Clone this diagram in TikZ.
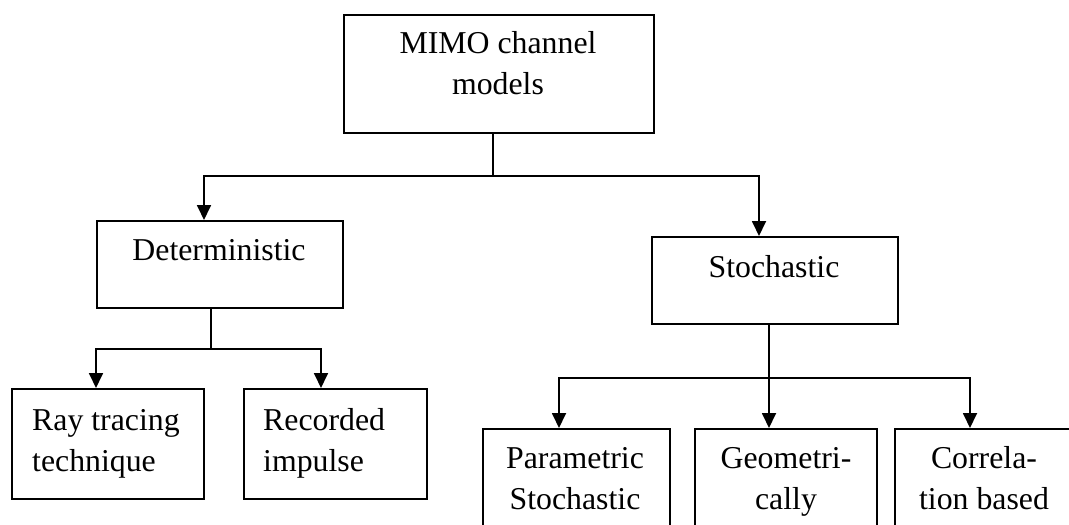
\documentclass[tikz,border=0pt]{standalone}
\usepackage{fontspec}
\setmainfont{Liberation Serif}
\usetikzlibrary{arrows.meta,calc}
\begin{document}
\begin{tikzpicture}[x=1pt,y=-1pt,
  box/.style={draw,line width=1.8pt,anchor=north west,inner sep=0pt},
  txt/.style={inner sep=0pt,font=\fontsize{31.8}{41}\selectfont},
  arr/.style={line width=1.8pt,-{Triangle[length=15pt,width=14pt]}},
  stem/.style={line width=1.3pt}]
\useasboundingbox (0,0) rectangle (1069,525);
\fill[white] (0,0) rectangle (1069,525);
\clip (0,0) rectangle (1069,525);
% boxes
\node[box,minimum width=310pt,minimum height=118pt] (top) at (343,14) {};
\node[box,minimum width=246pt,minimum height=87pt] (det) at (96,220) {};
\node[box,minimum width=192pt,minimum height=110pt] (ray) at (11,388) {};
\node[box,minimum width=183pt,minimum height=110pt] (rec) at (243,388) {};
\node[box,minimum width=246pt,minimum height=87pt] (sto) at (651,236) {};
\node[box,minimum width=187pt,minimum height=130pt] (par) at (482,428) {};
\node[box,minimum width=182pt,minimum height=130pt] (geo) at (694,428) {};
\node[box,minimum width=190pt,minimum height=130pt] (cor) at (894,428) {};
% texts (base anchor = baseline of the last line)
\node[txt,anchor=base,align=center] (ttop) at (498,94) {MIMO channel\\models};
\node[txt,anchor=base] (tdet) at (219,260) {Deterministic};
\node[txt,anchor=base west,align=left] (tray) at (32,471) {Ray tracing\\technique};
\node[txt,anchor=base west,align=left] (trec) at (263,471) {Recorded\\impulse};
\node[txt,anchor=base] (tsto) at (774,277) {Stochastic};
\node[txt,anchor=base,align=center] (tpar) at (575,509) {Parametric\\Stochastic};
\node[txt,anchor=base,align=center] (tgeo) at (786,509) {Geometri-\\cally};
\node[txt,anchor=base,align=center] (tcor) at (984,509) {Correla-\\tion based};
% connectors
\coordinate (j0) at (493,176);
\coordinate (j1) at (211,349);
\coordinate (j2) at (769,378);
\draw[stem] (j0 |- top.south) -- (j0);
\draw[arr] (j0) -| ([xshift=108pt]det.north west);
\draw[arr] (j0) -| ([xshift=108pt]sto.north west);
\draw[stem] (j1 |- det.south) -- (j1);
\draw[arr] (j1) -| ([xshift=85pt]ray.north west);
\draw[arr] (j1) -| ([xshift=78pt]rec.north west);
\draw[stem] (j2 |- sto.south) -- (j2);
\draw[arr] (j2) -| ([xshift=77pt]par.north west);
\draw[arr] (j2) -- (j2 |- geo.north);
\draw[arr] (j2) -| ([xshift=76pt]cor.north west);
\end{tikzpicture}
\end{document}
